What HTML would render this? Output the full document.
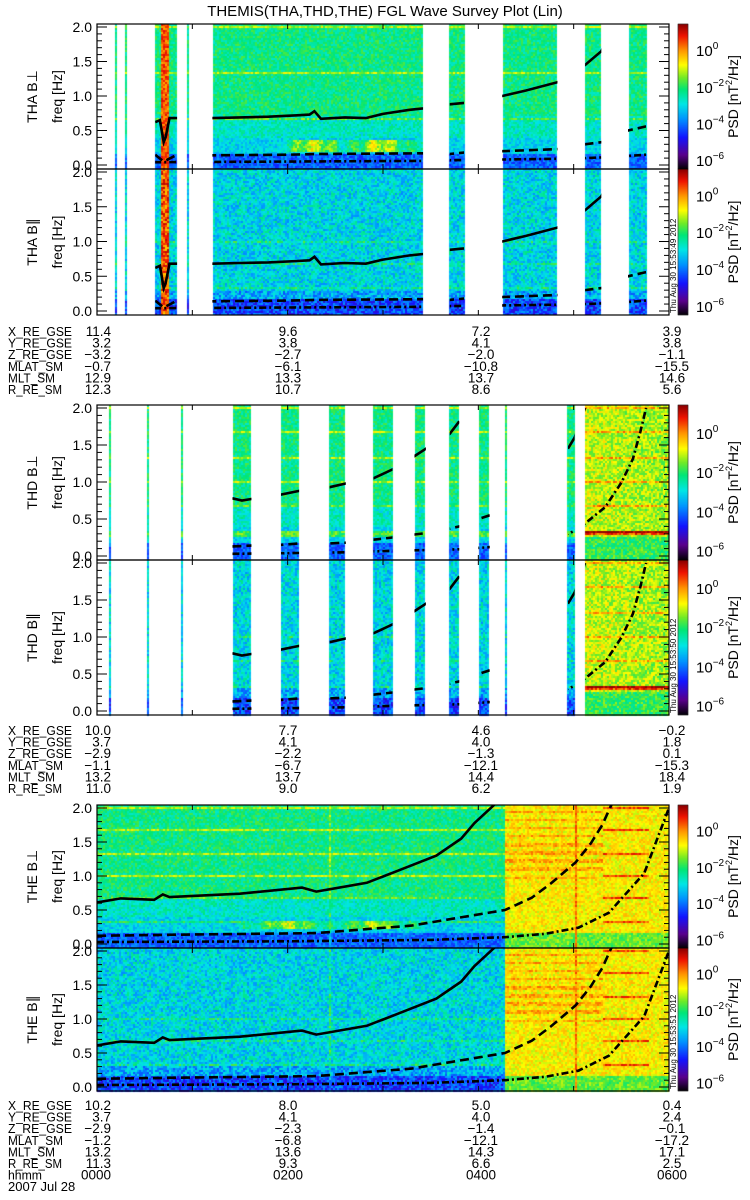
<!DOCTYPE html>
<html><head><meta charset="utf-8"><style>
html,body{margin:0;padding:0;background:#fff;}
#wrap{position:relative;width:750px;height:1200px;overflow:hidden;font-family:"Liberation Sans",sans-serif;}
canvas,svg{position:absolute;left:0;top:0;}
</style></head><body>
<div id="wrap">
<canvas id="cv" width="750" height="1200"></canvas>
<svg id="sv" width="750" height="1200" xmlns="http://www.w3.org/2000/svg">
<text x="385" y="16" text-anchor="middle" font-size="15" font-family="Liberation Sans, sans-serif">THEMIS(THA,THD,THE) FGL Wave Survey Plot (Lin)</text>
</svg>
</div>
<script>
// ---------- data ----------
const hourTicks = [0,1,2,3,4,5,6];
const freqTicks = [0.0,0.5,1.0,1.5,2.0];
const freqTickLabels = ["0.0","0.5","1.0","1.5","2.0"];
const cbarExps = ["0","-2","-4","-6"];
// data coverage intervals (hours)
const thaStrips = [[0.18,0.20],[0.29,0.305],[0.61,0.84],[0.95,0.965],[1.21,3.42],[3.70,3.85],[4.25,4.83],[5.12,5.29],[5.57,5.76],[5.99,6.0]];
const thdStrips = [[0.13,0.145],[0.53,0.545],[0.89,0.905],[1.42,1.62],[1.93,2.12],[2.44,2.61],[2.90,3.10],[3.33,3.45],[3.70,3.80],[4.00,4.12],[4.29,4.305],[4.94,5.01],[5.12,6.0]];
const theStrips = [[0,6]];
// gyrofrequency curves (hours, Hz); null = gap
const thaSolidT = [0.61,0.66,0.70,0.72,0.76,0.84,1.21,1.5,1.8,2.1,2.23,2.28,2.35,2.6,2.82,3.0,3.28,3.42,3.70,3.85,4.25,4.5,4.83,5.12,5.29,5.57,5.76];
const thaSolidF = [0.62,0.65,0.33,0.40,0.68,0.68,0.68,0.69,0.70,0.72,0.73,0.78,0.67,0.69,0.68,0.74,0.80,0.82,0.88,0.90,1.00,1.08,1.20,1.45,1.65,2.40,2.60];
const thaDashT = [0.61,0.70,0.84,1.21,2.0,2.3,3.42,3.70,3.85,4.25,4.83,5.12,5.29,5.57,5.76];
const thaDashF = [0.15,0.05,0.15,0.14,0.15,0.16,0.17,0.16,0.18,0.20,0.23,0.30,0.33,0.50,0.56];
const thaDotT = [0.6,3.42,3.7,4.25,4.83,5.12,5.29,5.57,5.76];
const thaDotF = [0.04,0.06,0.07,0.08,0.09,0.10,0.11,0.13,0.15];
const thdSolidT = [1.42,1.52,1.62,1.93,2.12,2.44,2.61,2.90,3.10,3.33,3.45,3.70,3.80,null,4.94,5.01,5.12];
const thdSolidF = [0.78,0.75,0.77,0.83,0.88,0.93,0.98,1.05,1.17,1.35,1.45,1.65,1.82,null,1.45,1.60,2.00];
const thdDashT = [1.42,1.62,1.93,2.12,2.44,2.61,2.90,3.10,3.33,3.45,3.70,3.80,4.00,4.12];
const thdDashF = [0.13,0.14,0.15,0.17,0.17,0.18,0.22,0.25,0.29,0.31,0.37,0.40,0.50,0.55];
const thdDotT = [1.42,2.12,2.61,3.10,3.45,3.80,4.12,4.94,5.01,5.12,5.33,5.50,5.62,5.70,5.76];
const thdDotF = [0.03,0.04,0.05,0.07,0.08,0.09,0.12,0.30,0.34,0.44,0.66,0.99,1.31,1.68,2.00];
const theSolidT = [0,0.25,0.6,0.69,0.76,1.5,2.15,2.3,2.83,3.16,3.56,3.82,3.96,4.17,4.3];
const theSolidF = [0.61,0.67,0.65,0.73,0.69,0.74,0.83,0.77,0.90,1.08,1.30,1.55,1.78,2.05,2.20];
const theDashT = [0,1.0,2.3,3.3,4.28,4.56,4.76,5.02,5.18,5.30,5.38,5.45];
const theDashF = [0.12,0.14,0.16,0.27,0.50,0.68,0.89,1.20,1.48,1.75,2.00,2.20];
const theDotT = [0,2.0,3.5,4.28,4.7,5.05,5.37,5.74,5.98,6.0];
const theDotF = [0.03,0.04,0.06,0.10,0.15,0.24,0.46,1.04,1.93,2.0];
// ephemeris
const ephemLabels = ["X_RE_GSE","Y_RE_GSE","Z_RE_GSE","MLAT_SM","MLT_SM","R_RE_SM"];
const thaEphem = [["11.4","9.6","7.2","3.9"],["3.2","3.8","4.1","3.8"],["\u22123.2","\u22122.7","\u22122.0","\u22121.1"],["\u22120.7","\u22126.1","\u221210.8","\u221215.5"],["12.9","13.3","13.7","14.6"],["12.3","10.7","8.6","5.6"]];
const thdEphem = [["10.0","7.7","4.6","\u22120.2"],["3.7","4.1","4.0","1.8"],["\u22122.9","\u22122.2","\u22121.3","0.1"],["\u22121.1","\u22126.7","\u221212.1","\u221215.3"],["13.2","13.7","14.4","18.4"],["11.0","9.0","6.2","1.9"]];
const theEphem = [["10.2","8.0","5.0","0.4"],["3.7","4.1","4.0","2.4"],["\u22122.9","\u22122.3","\u22121.4","\u22120.1"],["\u22121.2","\u22126.8","\u221212.1","\u221217.2"],["13.2","13.6","14.3","17.1"],["11.3","9.3","6.6","2.5"]];
const hhmmLabels = ["0000","0200","0400","0600"];

// ---------- layout ----------
const X0=97, X1=669, TW=(X1-X0)/6;
function xT(t){return X0+t*TW;}
const panels=[
 {sc:'THA',comp:'perp',top:24,bot:169,strips:thaStrips,stamp:null},
 {sc:'THA',comp:'par',top:169,bot:315,strips:thaStrips,stamp:'Thu Aug 30 15:53:49 2012'},
 {sc:'THD',comp:'perp',top:405,bot:560,strips:thdStrips,stamp:null},
 {sc:'THD',comp:'par',top:560,bot:715,strips:thdStrips,stamp:'Thu Aug 30 15:53:50 2012'},
 {sc:'THE',comp:'perp',top:805,bot:948,strips:theStrips,stamp:null},
 {sc:'THE',comp:'par',top:948,bot:1091,strips:theStrips,stamp:'Thu Aug 30 15:53:51 2012'}];
const curves={
 THA:[[thaSolidT,thaSolidF,'solid'],[thaDashT,thaDashF,'dash'],[thaDotT,thaDotF,'dashdot']],
 THD:[[thdSolidT,thdSolidF,'solid'],[thdDashT,thdDashF,'dash'],[thdDotT,thdDotF,'dashdot']],
 THE:[[theSolidT,theSolidF,'solid'],[theDashT,theDashF,'dash'],[theDotT,theDotF,'dashdot']]};
function yF(p,f){return p.bot-4-f*(p.bot-p.top-7)/2;}
function fY(p,y){return (p.bot-4-y)*2/(p.bot-p.top-7);}

// colormap
const stops=[[0,0,0,0],[0.10,90,0,140],[0.22,20,20,255],[0.35,0,150,255],[0.45,0,230,230],[0.55,0,230,120],[0.63,110,235,40],[0.72,255,255,0],[0.82,255,150,0],[0.92,240,20,0],[1,140,0,0]];
function cmap(v){v=Math.max(0,Math.min(1,v));for(let i=1;i<stops.length;i++){if(v<=stops[i][0]){const a=stops[i-1],b=stops[i],k=(v-a[0])/(b[0]-a[0]);return [a[1]+k*(b[1]-a[1]),a[2]+k*(b[2]-a[2]),a[3]+k*(b[3]-a[3])];}}return [140,0,0];}
function hash(i,j,s){let h=(i*374761393+j*668265263+s*982451653)|0;h=(h^(h>>>13))*1274126177|0;h=h^(h>>>16);return ((h>>>0)%10000)/10000;}
function inStrip(strips,t){for(const s of strips){if(t>=s[0]&&t<=s[1])return true;}return false;}
function harm(f){let d=Math.abs(f*3-Math.round(f*3))/3;return (Math.round(f*3)>=1&&d<0.012)?1:0;}
function val(p,t,f,n){
 let v, a;
 const hot=(p.sc==='THD'&&t>5.1)||(p.sc==='THE'&&t>4.28);
 if(hot){
  if(p.sc==='THD'){
   v=0.69-0.04*(t-5.1); a=0.16;
   if(f<0.27) v=0.58;
   if(Math.abs(f-0.32)<0.025) v=0.88;
   if(harm(f)) v+=0.12;
  }else{
   v=0.73; a=0.12;
   if(harm(f)&&t>5.3&&t<5.8) v+=0.15;
   if(t<5.3&&f>0.9&&(Math.floor(f*25)%3===0)) v+=0.07;
   if(f<0.15) v=0.62;
   if(Math.abs(t-5.02)<0.012) v=0.84;
  }
  return v+(n-0.5)*a;
 }
 if(p.comp==='perp'){
  if(f>0.7)v=0.54;else if(f>0.4)v=0.48;else if(f>0.17)v=0.43;else v=0.3;
  a=0.14;
  if(harm(f)) v+=0.13;
  if(p.sc==='THA'&&t>2.0&&t<3.42&&f>0.19&&f<0.36) v=0.6+0.08*Math.sin(t*9)+0.05*Math.sin(t*31);
  if(p.sc==='THE'&&t>1.5&&t<3.4&&f>0.22&&f<0.34) v=0.58+0.08*Math.sin(t*7)+0.05*Math.sin(t*29);
  if(p.sc==='THD'&&f>0.25&&f<0.35) v=0.6;
 }else{
  if(f>0.3)v=0.44;else if(f>0.17)v=0.38;else v=0.27;
  a=0.2;
  if(harm(f)&&f<1.1) v+=0.08;
 }
 if(p.sc==='THA'&&t>0.67&&t<0.75) v=0.87;
 if(p.sc==='THE'&&Math.abs(t-2.45)<0.012) v+=0.1;
 return v+(n-0.5)*a;
}
const cv=document.getElementById('cv'),ctx=cv.getContext('2d');
panels.forEach((p,pi)=>{
 for(let x=X0;x<X1;x+=2){
  const t=(x+1-X0)/TW;
  if(!inStrip(p.strips,t))continue;
  for(let y=p.top;y<p.bot;y+=2){
   const f=fY(p,y+1);
   const n=hash(x>>1,y>>1,pi+1);
   const c=cmap(val(p,t,f,n));
   ctx.fillStyle='rgb('+(c[0]|0)+','+(c[1]|0)+','+(c[2]|0)+')';
   ctx.fillRect(x,y,2,2);
  }
 }
 for(let y=p.top;y<p.bot;y++){
  const c=cmap(1-(y-p.top)/(p.bot-p.top));
  ctx.fillStyle='rgb('+(c[0]|0)+','+(c[1]|0)+','+(c[2]|0)+')';
  ctx.fillRect(678,y,10,1);
 }
});

// ---------- SVG overlay ----------
const NS='http://www.w3.org/2000/svg';
const sv=document.getElementById('sv');
function el(tag,attrs,parent){const e=document.createElementNS(NS,tag);for(const k in attrs)e.setAttribute(k,attrs[k]);(parent||sv).appendChild(e);return e;}
function txt(x,y,s,anchor,size,parent){const e=el('text',{x:x,y:y,'text-anchor':anchor||'start','font-size':size||13,'font-family':'Liberation Sans, sans-serif'},parent);e.textContent=s;return e;}
const defs=el('defs',{});
panels.forEach((p,pi)=>{
 const g=el('g',{});
 
 
 const cp=el('clipPath',{id:'clip'+pi},defs);
 p.strips.forEach(s=>{if(s[1]-s[0]>0.05)el('rect',{x:xT(s[0]),y:p.top,width:xT(s[1])-xT(s[0]),height:p.bot-p.top},cp);});
 const cg=el('g',{'clip-path':'url(#clip'+pi+')'},g);
 curves[p.sc].forEach(c=>{
  const T=c[0],F=c[1];let d='',pen=false;
  for(let i=0;i<T.length;i++){
   if(T[i]===null){pen=false;continue;}
   d+=(pen?'L':'M')+xT(T[i]).toFixed(1)+','+yF(p,F[i]).toFixed(1);pen=true;
  }
  const path=el('path',{d:d,fill:'none',stroke:'#000','stroke-width':2.6,'stroke-dasharray':c[2]==='solid'?'none':(c[2]==='dash'?'9,5':'7,3,2,3')},cg);
  
  
 });
 el('rect',{x:X0,y:p.top,width:X1-X0,height:p.bot-p.top,fill:'none',stroke:'#000','stroke-width':1.2},g);
 for(let k=0;k<=20;k++){
  const f=k/10, y=yF(p,f), L=(k%5===0)?10:5;
  el('line',{x1:X0,x2:X0+L,y1:y,y2:y,stroke:'#000','stroke-width':1},g);
  el('line',{x1:X1-L,x2:X1,y1:y,y2:y,stroke:'#000','stroke-width':1},g);
 }
 freqTicks.forEach((f,i)=>{const t=txt(92,yF(p,f)+5,freqTickLabels[i],'end',14,g);});
 hourTicks.forEach(h=>{el('line',{x1:xT(h),x2:xT(h),y1:p.bot,y2:p.bot-5,stroke:'#000'},g);el('line',{x1:xT(h),x2:xT(h),y1:p.top,y2:p.top+5,stroke:'#000'},g);});
 const cy=(p.top+p.bot)/2;
 const nm=p.sc+' B'+(p.comp==='perp'?'\u22A5':'\u2225');
 const l1=txt(0,0,nm,'middle',14,g);l1.setAttribute('transform','translate(37,'+cy+') rotate(-90)');
 
 const l2=txt(0,0,'freq [Hz]','middle',14,g);l2.setAttribute('transform','translate(62,'+cy+') rotate(-90)');
 
 const h=p.bot-p.top;
 cbarExps.forEach((e,i)=>{
  const y=p.top+h*(0.18+i*0.253)+6;
  const t=txt(696,y,'10','start',15,g);
  const s=el('tspan',{dy:-7,'font-size':10},t);s.textContent=e.replace('-','\u2212');
  
 });
 const ps=txt(0,0,'','middle',14,g);ps.setAttribute('transform','translate(738,'+cy+') rotate(-90)');
 ps.appendChild(document.createTextNode('PSD  [nT'));
 const sup=el('tspan',{dy:-6,'font-size':9},ps);sup.textContent='2';
 const rest=el('tspan',{dy:6},ps);rest.textContent='/Hz]';
 
 el('rect',{x:678,y:p.top,width:10,height:h,fill:'none',stroke:'#000','stroke-width':0.5},g);
 if(p.stamp){const st=txt(0,0,p.stamp,'start',8,g);st.setAttribute('transform','translate(676,'+(p.bot-2)+') rotate(-90)');}
});
// ephemeris
const colX=[111,288,481,672];
const labelW={"X_RE_GSE":64,"Y_RE_GSE":64,"Z_RE_GSE":64,"MLAT_SM":55,"MLT_SM":47,"R_RE_SM":54,"hhmm":34};
function ephem(rows,y0,extra){
 const g=el('g',{});
 
 
 const all=rows.map((r,i)=>[ephemLabels[i],r]);
 if(extra) all.push(['hhmm',hhmmLabels]);
 all.forEach((r,i)=>{
  const y=y0+i*11.6+5;
  const lt=txt(8,y,r[0],'start',13,g);
  lt.setAttribute('textLength',labelW[r[0]]);
  lt.setAttribute('lengthAdjust','spacingAndGlyphs');
  r[1].forEach((v,j)=>txt(colX[j],y,v,j===0?'end':'middle',13.5,g));
 });
 if(extra) txt(8,y0+7*11.6+5,'2007 Jul 28','start',13,g);
}
ephem(thaEphem,331);
ephem(thdEphem,730);
ephem(theEphem,1105,true);
</script>
</body></html>
